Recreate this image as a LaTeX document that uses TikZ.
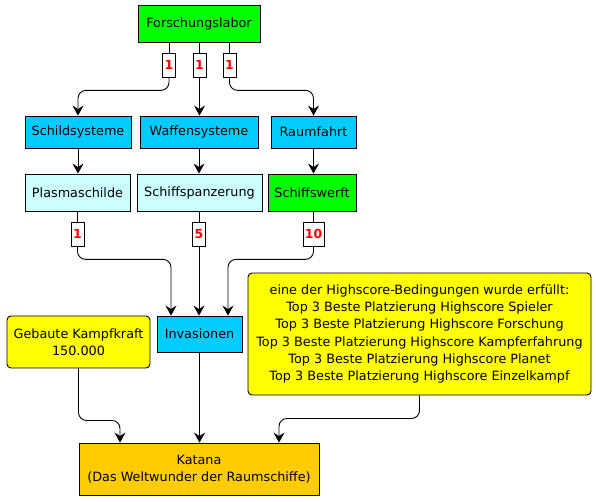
\documentclass[tikz,border=0pt]{standalone}
\usepackage{fontspec}
\setmainfont{DejaVu Sans}
\usepackage{xcolor}
\usetikzlibrary{arrows.meta}

\definecolor{labgreen}{HTML}{00FF00}
\definecolor{deepcyan}{HTML}{00CCFF}
\definecolor{palecyan}{HTML}{CCFFFF}
\definecolor{condyellow}{HTML}{FFFF00}
\definecolor{wondergold}{HTML}{FFCC00}

\begin{document}
\begin{tikzpicture}[x=1pt, y=-1pt, >={Stealth[length=10pt, width=11pt, inset=3.5pt]},
    font=\fontsize{12.8}{17.3}\selectfont,
    box/.style={draw, line width=0.9pt, inner sep=0pt, align=center},
    cnt/.style={draw, fill=white, line width=0.7pt, inner sep=0pt, minimum height=24,
                text=red, font=\fontsize{12.5}{12.5}\selectfont\bfseries},
    link/.style={->, line width=0.9pt, rounded corners=8pt}]
  \useasboundingbox (0,0) rectangle (596,501);
  \node[box, fill=labgreen, minimum width=122, minimum height=37] (forsch) at (199,23.5) {Forschungslabor};
  \node[box, fill=deepcyan, minimum width=106, minimum height=32] (schild) at (78,132) {Schildsysteme};
  \node[box, fill=deepcyan, minimum width=118, minimum height=32] (waffen) at (199,132) {Waffensysteme};
  \node[box, fill=deepcyan, minimum width=85, minimum height=32] (raum) at (313.5,132) {Raumfahrt};
  \node[box, fill=palecyan, minimum width=105, minimum height=37] (plasma) at (77.5,192.5) {Plasmaschilde};
  \node[box, fill=palecyan, minimum width=125, minimum height=37] (panzer) at (199.5,192.5) {Schiffspanzerung};
  \node[box, fill=labgreen, minimum width=88, minimum height=37] (werft) at (312,192.5) {Schiffswerft};
  \node[box, fill=deepcyan, minimum width=85, minimum height=36] (inv) at (199.5,334) {Invasionen};
  \node[box, fill=condyellow, rounded corners=4pt, minimum width=143, minimum height=52] (kampf) at (78.5,342)
        {Gebaute Kampfkraft\\150.000};
  \node[box, fill=condyellow, rounded corners=4pt, minimum width=343, minimum height=122] (high) at (419.5,334)
        {eine der Highscore-Bedingungen wurde erfüllt:\\
         Top 3 Beste Platzierung Highscore Spieler\\
         Top 3 Beste Platzierung Highscore Forschung\\
         Top 3 Beste Platzierung Highscore Kampferfahrung\\
         Top 3 Beste Platzierung Highscore Planet\\
         Top 3 Beste Platzierung Highscore Einzelkampf};
  \node[box, fill=wondergold, minimum width=240, minimum height=52] (katana) at (199,469)
        {Katana\\(Das Weltwunder der Raumschiffe)};
  % Zaehler
  \node[cnt, minimum width=13] (c1) at (169,65) {1};
  \node[cnt, minimum width=13] (c2) at (199.5,65) {1};
  \node[cnt, minimum width=13] (c3) at (229.5,65) {1};
  \node[cnt, minimum width=13] (c4) at (77.5,234) {1};
  \node[cnt, minimum width=13] (c5) at (199,234) {5};
  \node[cnt, minimum width=21] (c6) at (313.5,234) {10};
  % Forschungslabor -> Bereiche
  \draw[line width=0.9pt] (forsch.south -| c1) -- (c1.north) (forsch.south -| c2) -- (c2.north)
        (forsch.south -| c3) -- (c3.north);
  \draw[link] (c1.south) -- ++(0,13) -| (schild.north);
  \draw[link] (c2.south) -- (c2.south |- waffen.north);
  \draw[link] (c3.south) -- ++(0,13) -| (raum.north);
  % Bereiche -> Technologien
  \draw[link] (schild.south) -- (schild.south |- plasma.north);
  \draw[link] (waffen.south) -- (waffen.south |- panzer.north);
  \draw[link] (raum.south) -- (raum.south |- werft.north);
  % Technologien -> Invasionen
  \draw[line width=0.9pt] (plasma.south -| c4) -- (c4.north) (panzer.south -| c5) -- (c5.north)
        (werft.south -| c6) -- (c6.north);
  \draw[link] (c4.south) -- ++(0,13) -| ([xshift=-28.5pt]inv.north);
  \draw[link] (c5.south) -- (c5.south |- inv.north);
  \draw[link] (c6.south) -- ++(0,13) -| ([xshift=28.5pt]inv.north);
  % -> Katana
  \draw[link] (kampf.south) -- ++(0,52) -| ([xshift=-79pt]katana.north);
  \draw[link] (inv.south) -- (inv.south |- katana.north);
  \draw[link] (high.south) -- ++(0,23) -| ([xshift=80pt]katana.north);
\end{tikzpicture}
\end{document}
